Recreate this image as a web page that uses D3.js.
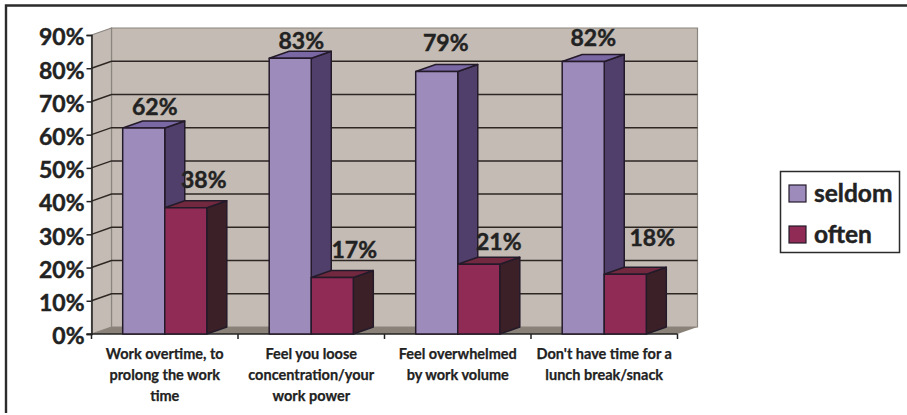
<!DOCTYPE html>
<html>
<head>
<meta charset="utf-8">
<script src="https://cdn.jsdelivr.net/npm/d3@7/dist/d3.min.js"></script>
<style>
  html, body { margin: 0; padding: 0; background: #fff; }
  svg { display: block; }
  text { font-family: Lato, "Open Sans", sans-serif; font-weight: 700; fill: #222; stroke: #222; stroke-width: 0.45px; }
  .small { stroke-width: 0.25px; }
</style>
</head>
<body>
<svg id="chart" width="907" height="415"></svg>
<script>
// Survey answers per statement, in percent
const categories = [
  ["Work overtime, to", "prolong the work", "time"],
  ["Feel you loose", "concentration/your", "work power"],
  ["Feel overwhelmed", "by work volume"],
  ["Don't have time for a", "lunch break/snack"]
];
const seriesNames = ["seldom", "often"];
const seldom = [62, 83, 79, 82];
const often = [38, 17, 21, 18];
const yTicks = [0, 10, 20, 30, 40, 50, 60, 70, 80, 90];

// Hand-placed value label offsets from each bar's top-centre
const seldomLabelShift = [[11, -13], [11, -9], [9, -21], [10, -16]];
const oftenLabelShift = [[18, -20], [22, -20], [20, -14], [27, -28]];

const palette = {
  seldom: { front: "#9c8bbb", side: "#4f3f6a", top: "#7a68a4" },
  often: { front: "#8f2b54", side: "#3c2027", top: "#72283f" }
};

const depth = { x: 20, y: 7 };
const plot = { left: 91.5, right: 677.5, top: 35, bottom: 334 };

const svg = d3.select("#chart");

const y = d3.scaleLinear().domain([0, 90]).range([plot.bottom, plot.top]);
const x = d3.scaleBand().domain(d3.range(categories.length))
  .range([plot.left, plot.right]).paddingInner(0.426).paddingOuter(0.213);
const xSeries = d3.scaleBand().domain(seriesNames).range([0, x.bandwidth()]);

const poly = pts => pts.map(p => p.join(",")).join(" ");

// Page frame: only the top and left rules are present
svg.append("path").attr("d", "M6,413V5.5H907")
  .attr("fill", "none").attr("stroke", "#2b2b2b").attr("stroke-width", 2.4);

// Chart box: back wall, side wall, floor
const walls = svg.append("g");
const edge = "#8b857f";
walls.append("polygon")
  .attr("points", poly([
    [plot.left + depth.x, y(90) - depth.y], [plot.right + depth.x, y(90) - depth.y],
    [plot.right + depth.x, y(0) - depth.y], [plot.left + depth.x, y(0) - depth.y]]))
  .attr("fill", "#c3bbb4").attr("stroke", edge).attr("stroke-width", 1.2);
walls.append("polygon")
  .attr("points", poly([
    [plot.left, y(90)], [plot.left + depth.x, y(90) - depth.y],
    [plot.left + depth.x, y(0) - depth.y], [plot.left, y(0)]]))
  .attr("fill", "#c3bbb4").attr("stroke", edge).attr("stroke-width", 1.2);
walls.append("polygon")
  .attr("points", poly([
    [plot.left, y(0)], [plot.left + depth.x, y(0) - depth.y],
    [plot.right + depth.x, y(0) - depth.y], [plot.right, y(0)]]))
  .attr("fill", "#8a8279");

// Gridlines run along the side wall, then across the back wall
const grid = svg.append("g").attr("fill", "none").attr("stroke", "#2e2622").attr("stroke-width", 1.5);
grid.selectAll("path").data(yTicks.filter(t => t > 0 && t < 90)).join("path")
  .attr("d", t => `M${plot.left},${y(t)}L${plot.left + depth.x},${y(t) - depth.y}H${plot.right + depth.x}`);

// Value axis
const yAxis = svg.append("g").attr("transform", `translate(${plot.left},0)`)
  .call(d3.axisLeft(y).tickValues(yTicks).tickFormat(d => d + "%").tickSize(5).tickPadding(2));
yAxis.select(".domain").attr("stroke", "#222").attr("stroke-width", 1.5);
yAxis.selectAll(".tick line").attr("stroke", "#222").attr("stroke-width", 1.5);
yAxis.selectAll(".tick text").attr("y", 2.5).style("font-size", "23px").style("font-family", "Lato, sans-serif")
  .style("font-weight", 700).attr("fill", "#222");

// Category axis with ticks on the category boundaries
const boundaries = d3.range(categories.length + 1).map(i => plot.left + i * x.step());
const xAxis = svg.append("g").attr("fill", "none").attr("stroke", "#222").attr("stroke-width", 1.5);
xAxis.append("line").attr("x1", plot.left - 5).attr("x2", plot.right).attr("y1", y(0)).attr("y2", y(0));
xAxis.selectAll(".boundary").data(boundaries).join("line").attr("class", "boundary")
  .attr("x1", d => d).attr("x2", d => d).attr("y1", y(0)).attr("y2", y(0) + 5);

const catLabels = svg.append("g").selectAll("text").data(categories).join("text")
  .attr("class", "small").attr("text-anchor", "middle").style("font-size", "14.5px");
catLabels.each(function (lines, i) {
  d3.select(this).selectAll("tspan").data(lines).join("tspan")
    .attr("x", x(i) + x.bandwidth() / 2)
    .attr("y", (d, k) => 359 + k * 21)
    .text(d => d);
});

// Extruded columns: side and top faces first, then the front
function drawColumn(g, name, value, i) {
  const x0 = x(i) + xSeries(name), x1 = x0 + xSeries.bandwidth();
  const yTop = y(value), yBase = y(0);
  const c = palette[name];
  const face = g.append("g").attr("stroke", "#241b2a").attr("stroke-width", 1.5).attr("stroke-linejoin", "round");
  face.append("polygon")
    .attr("points", poly([[x1, yTop], [x1 + depth.x, yTop - depth.y], [x1 + depth.x, yBase - depth.y], [x1, yBase]]))
    .attr("fill", c.side);
  face.append("polygon")
    .attr("points", poly([[x0, yTop], [x0 + depth.x, yTop - depth.y], [x1 + depth.x, yTop - depth.y], [x1, yTop]]))
    .attr("fill", c.top);
  face.append("rect")
    .attr("x", x0).attr("y", yTop).attr("width", x1 - x0).attr("height", yBase - yTop)
    .attr("fill", c.front);
}

const bars = svg.append("g");
categories.forEach((_, i) => {
  drawColumn(bars, "seldom", seldom[i], i);
  drawColumn(bars, "often", often[i], i);
});

// Value labels sit above everything else
const labels = svg.append("g").attr("text-anchor", "middle").style("font-size", "23px");
function drawLabels(name, values, shifts) {
  values.forEach((v, i) => {
    labels.append("text")
      .attr("x", x(i) + xSeries(name) + xSeries.bandwidth() / 2 + shifts[i][0])
      .attr("y", y(v) + shifts[i][1])
      .text(v + "%");
  });
}
drawLabels("seldom", seldom, seldomLabelShift);
drawLabels("often", often, oftenLabelShift);

// Legend
const legend = svg.append("g");
legend.append("rect").attr("x", 780.5).attr("y", 171.5).attr("width", 119).attr("height", 81)
  .attr("fill", "#fff").attr("stroke", "#2b2b2b").attr("stroke-width", 1.5);
const legendRow = d3.scalePoint().domain(seriesNames).range([193.5, 234.5]);
seriesNames.forEach(name => {
  legend.append("rect")
    .attr("x", 789).attr("y", legendRow(name) - 8.5).attr("width", 17).attr("height", 17)
    .attr("fill", palette[name].front).attr("stroke", "#241b2a").attr("stroke-width", 1.2);
  legend.append("text")
    .attr("x", 814).attr("y", legendRow(name) + 8)
    .style("font-size", "24.5px").text(name);
});
</script>
</body>
</html>
